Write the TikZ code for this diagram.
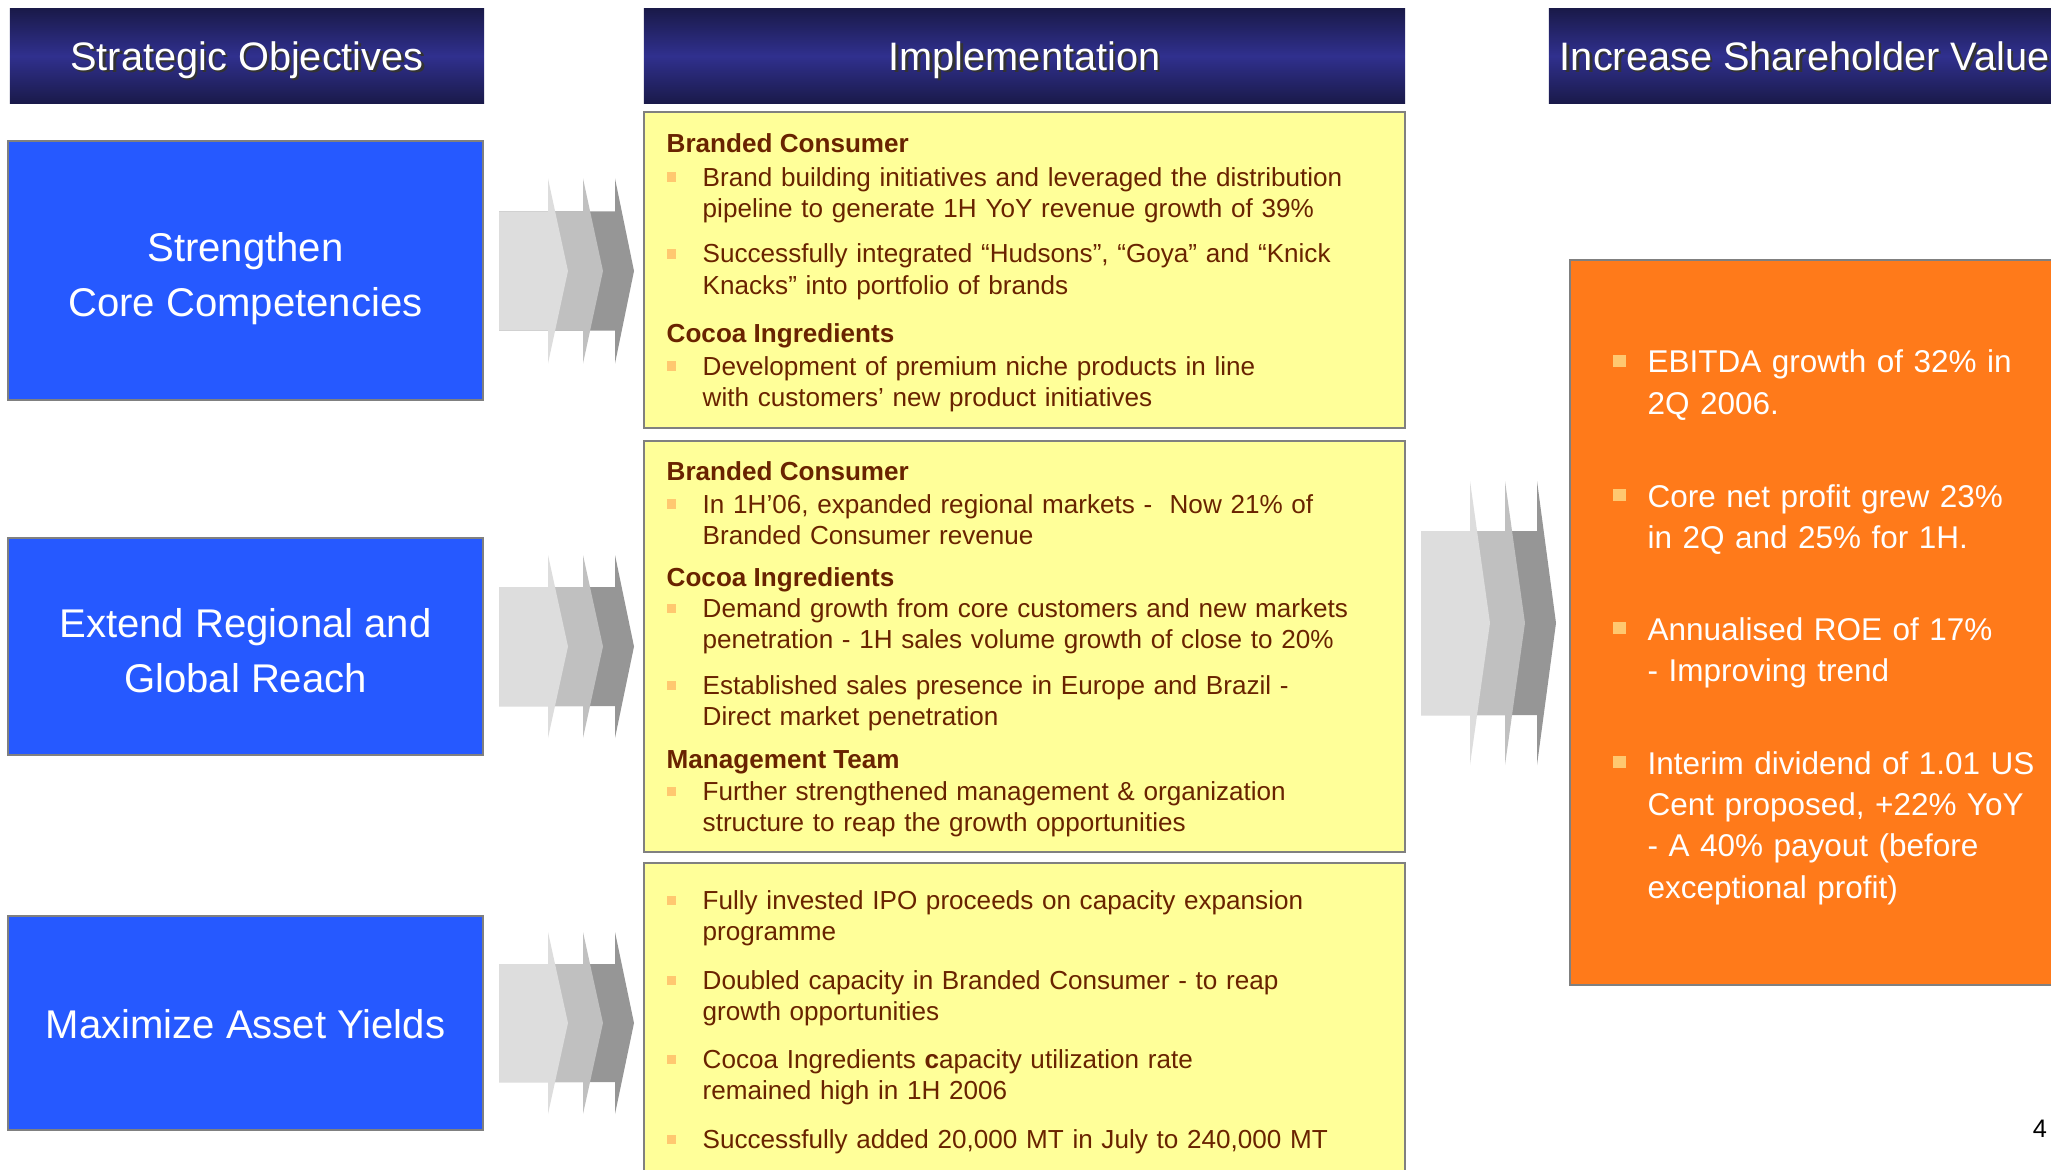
\documentclass[tikz,border=0pt]{standalone}
\usepackage{fontspec}
\setmainfont{Liberation Sans}
\usetikzlibrary{positioning}

\definecolor{navydark}{RGB}{26,26,74}
\definecolor{navymid}{RGB}{48,48,142}
\definecolor{objblue}{RGB}{38,89,255}
\definecolor{implyellow}{RGB}{255,255,153}
\definecolor{impltext}{RGB}{105,35,0}
\definecolor{valorange}{RGB}{255,122,26}
\definecolor{bulletorange}{RGB}{255,200,112}
\definecolor{framegray}{RGB}{128,128,128}
\definecolor{chevlight}{RGB}{221,221,221}
\definecolor{chevmid}{RGB}{192,192,192}
\definecolor{chevdark}{RGB}{150,150,150}

\newcommand{\shadowed}[1]{\makebox[0pt][l]{\kern0.7pt\smash{\raisebox{-0.7pt}{\color{black!80}#1}}}#1}

\tikzset{
  header/.style={top color=navydark, bottom color=navydark, middle color=navymid,
    inner sep=0pt, minimum height=0.94cm},
  hdrtext/.style={inner sep=0pt, text=white, text height=9pt, text depth=1pt,
    font=\fontsize{11.3}{13.5}\selectfont},
  objbox/.style={fill=objblue, draw=framegray, line width=0.6pt, inner sep=0pt,
    minimum width=4.75cm},
  objtext/.style={inner sep=0pt, text=white, align=center,
    font=\fontsize{11.4}{15.6}\selectfont},
  implbox/.style={fill=implyellow, draw=framegray, line width=0.6pt,
    inner sep=0pt, minimum width=7.61cm},
  valbox/.style={fill=valorange, draw=framegray, line width=0.6pt, inner sep=0pt},
  impltitle/.style={anchor=base west, inner sep=0pt, text=impltext,
    font=\fontsize{7.42}{8.9}\selectfont\bfseries},
  implitem/.style={anchor=base west, inner sep=0pt, text=impltext,
    text width=7cm, align=left, font=\fontsize{7.42}{8.9}\selectfont},
  valitem/.style={anchor=base west, inner sep=0pt, text=white,
    text width=5cm, align=left, font=\fontsize{8.95}{11.8}\selectfont},
  ibullet/.style={fill=bulletorange, minimum size=0.09cm, inner sep=0pt},
  vbullet/.style={fill=bulletorange, minimum size=0.125cm, inner sep=0pt},
}

\begin{document}
\begin{tikzpicture}[x=0.01cm, y=-0.01cm]
  \useasboundingbox (0,0) rectangle (2051,1170);
  \clip (0,0) rectangle (2051,1170);
  \fill[white] (0,0) rectangle (2051,1170);

  % Column headers
  \node[header, minimum width=4.74cm] (hobj) at (247,56) {};
  \node[hdrtext] (hobjtext) at (hobj.center) {\shadowed{Strategic Objectives}};
  \node[header, minimum width=7.61cm] (himpl) at (1024.5,56) {};
  \node[hdrtext] (himpltext) at (himpl.center) {\shadowed{Implementation}};
  \node[header, minimum width=5.51cm] (hval) at (1824.5,56) {};
  \node[hdrtext, anchor=west] (hvaltext) at ([xshift=0.11cm]hval.west)
    {\shadowed{Increase Shareholder Value}};

  % Strategic objectives
  \node[objbox, minimum height=2.59cm] (obj1) at (245.5,270.5) {};
  \node[objtext] (obj1text) at ([yshift=-0.08cm]obj1.center)
    {Strengthen\\Core Competencies};
  \node[objbox, minimum height=2.17cm] (obj2) at (245.5,646.5) {};
  \node[objtext] (obj2text) at ([yshift=-0.04cm]obj2.center)
    {Extend Regional and\\Global Reach};
  \node[objbox, minimum height=2.14cm] (obj3) at (245.5,1023) {};
  \node[objtext] (obj3text) at ([yshift=-0.01cm]obj3.center)
    {Maximize Asset Yields};

  % Chevron stacks
  \foreach \lx/\cy/\bh/\sh in {499/271/59.5/92.5, 499/646.5/59.5/91.5,
      499/1023/59/91, 1421/623/92/142} {
    \foreach \sx/\px/\tone in {116/135/chevdark, 84/104/chevmid, 49/69/chevlight} {
      \fill[\tone] (\lx,\cy-\bh) -- (\lx+\sx,\cy-\bh) -- (\lx+\sx,\cy-\sh)
        -- (\lx+\px,\cy) -- (\lx+\sx,\cy+\sh) -- (\lx+\sx,\cy+\bh)
        -- (\lx,\cy+\bh) -- cycle;
    }
  }

  % Implementation boxes
  \node[implbox, minimum height=3.16cm] (impl1) at (1024.5,270) {};
  \node[implbox, minimum height=4.11cm] (impl2) at (1024.5,646.5) {};
  \node[implbox, minimum height=3.20cm] (impl3) at (1024.5,1023) {};

  \foreach \n/\y/\t in {t1/153/{Branded Consumer}, t2/343/{Cocoa Ingredients},
      t3/480/{Branded Consumer}, t4/586/{Cocoa Ingredients},
      t5/768/{Management Team}} {
    \node[impltitle] (\n) at (666,\y) {\t};
  }

  \foreach \n/\y/\t in {
      i1/186/{Brand building initiatives and leveraged the distribution\\pipeline to generate 1H YoY revenue growth of 39\%},
      i2/263/{Successfully integrated “Hudsons”, “Goya” and “Knick\\Knacks” into portfolio of brands},
      i3/375/{Development of premium niche products in line\\with customers’ new product initiatives},
      i4/513/{In 1H’06, expanded regional markets - \ Now 21\% of\\Branded Consumer revenue},
      i5/617/{Demand growth from core customers and new markets\\penetration - 1H sales volume growth of close to 20\%},
      i6/694/{Established sales presence in Europe and Brazil -\\Direct market penetration},
      i7/800/{Further strengthened management \& organization\\structure to reap the growth opportunities},
      i8/909/{Fully invested IPO proceeds on capacity expansion\\programme},
      i9/989/{Doubled capacity in Branded Consumer - to reap\\growth opportunities},
      i10/1068/{Cocoa Ingredients \textbf{c}apacity utilization rate\\remained high in 1H 2006},
      i11/1148/{Successfully added 20,000 MT in July to 240,000 MT}} {
    \node[implitem] (\n) at (702,\y) {\t};
    \node[ibullet] (\n-bul) at ([shift={(-30.5,-9)}]\n.base west) {};
  }

  % Shareholder value
  \node[valbox, minimum width=5.30cm, minimum height=7.25cm] (val) at (1835,622.5) {};
  \foreach \n/\y/\t in {
      v1/373/{EBITDA growth of 32\% in\\2Q 2006.},
      v2/507/{Core net profit grew 23\%\\in 2Q and 25\% for 1H.},
      v3/640/{Annualised ROE of 17\%\\- Improving trend},
      v4/774/{Interim dividend of 1.01 US\\Cent proposed, +22\% YoY\\- A 40\% payout (before\\exceptional profit)}} {
    \node[valitem] (\n) at (1647,\y) {\t};
    \node[vbullet] (\n-bul) at ([shift={(-27.5,-12)}]\n.base west) {};
  }

  \node[inner sep=0pt, font=\fontsize{7.2}{8}\selectfont] (pagenum) at (2040,1129) {4};
\end{tikzpicture}
\end{document}
